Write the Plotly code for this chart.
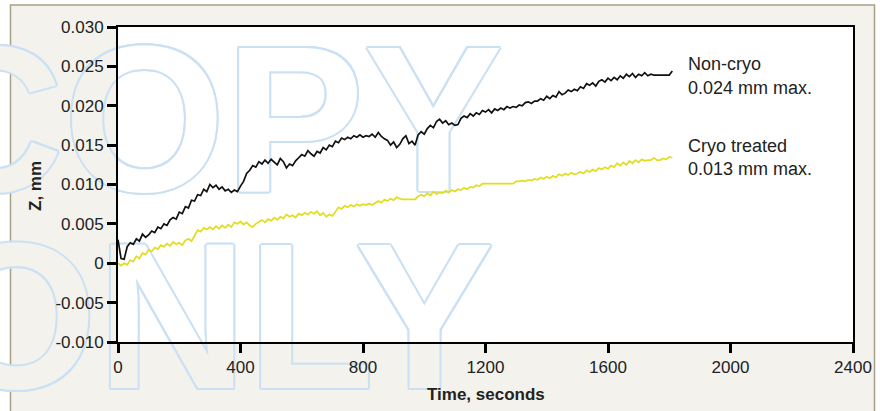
import plotly.graph_objects as go

# ---- data ----
time_s = [
    0, 10, 20, 30, 40, 50, 60, 70, 80, 90, 100, 110, 120, 130, 140, 150, 160, 170, 180, 190,
    200, 210, 220, 230, 240, 250, 260, 270, 280, 290, 300, 310, 320, 330, 340, 350, 360, 370, 380, 390,
    400, 410, 420, 430, 440, 450, 460, 470, 480, 490, 500, 510, 520, 530, 540, 550, 560, 570, 580, 590,
    600, 610, 620, 630, 640, 650, 660, 670, 680, 690, 700, 710, 720, 730, 740, 750, 760, 770, 780, 790,
    800, 810, 820, 830, 840, 850, 860, 870, 880, 890, 900, 910, 920, 930, 940, 950, 960, 970, 980, 990,
    1000, 1010, 1020, 1030, 1040, 1050, 1060, 1070, 1080, 1090, 1100, 1110, 1120, 1130, 1140, 1150, 1160, 1170, 1180, 1190,
    1200, 1210, 1220, 1230, 1240, 1250, 1260, 1270, 1280, 1290, 1300, 1310, 1320, 1330, 1340, 1350, 1360, 1370, 1380, 1390,
    1400, 1410, 1420, 1430, 1440, 1450, 1460, 1470, 1480, 1490, 1500, 1510, 1520, 1530, 1540, 1550, 1560, 1570, 1580, 1590,
    1600, 1610, 1620, 1630, 1640, 1650, 1660, 1670, 1680, 1690, 1700, 1710, 1720, 1730, 1740, 1750, 1760, 1770, 1780, 1790,
    1800, 1810,
]

non_cryo_z = [
    0.0030, 0.0006, 0.0005, 0.0021, 0.0026, 0.0024, 0.0031, 0.0028, 0.0037, 0.0033, 0.0036, 0.0041, 0.0039, 0.0046, 0.0044, 0.0050, 0.0048, 0.0055, 0.0058, 0.0056,
    0.0065, 0.0063, 0.0072, 0.0070, 0.0080, 0.0079, 0.0087, 0.0086, 0.0094, 0.0091, 0.0100, 0.0096, 0.0099, 0.0094, 0.0097, 0.0092, 0.0094, 0.0090, 0.0093, 0.0091,
    0.0098, 0.0104, 0.0114, 0.0118, 0.0124, 0.0122, 0.0129, 0.0126, 0.0131, 0.0127, 0.0132, 0.0128, 0.0125, 0.0133, 0.0129, 0.0121, 0.0126, 0.0124, 0.0130, 0.0134,
    0.0138, 0.0136, 0.0143, 0.0139, 0.0136, 0.0142, 0.0140, 0.0147, 0.0144, 0.0150, 0.0148, 0.0155, 0.0153, 0.0159, 0.0157, 0.0160, 0.0158, 0.0162, 0.0160, 0.0163,
    0.0160, 0.0162, 0.0161, 0.0164, 0.0160, 0.0166, 0.0161, 0.0158, 0.0156, 0.0150, 0.0154, 0.0147, 0.0151, 0.0158, 0.0162, 0.0152, 0.0155, 0.0150, 0.0163, 0.0167,
    0.0164, 0.0171, 0.0175, 0.0172, 0.0180, 0.0183, 0.0178, 0.0181, 0.0176, 0.0178, 0.0175, 0.0176, 0.0184, 0.0187, 0.0185, 0.0190, 0.0187, 0.0191, 0.0189, 0.0194,
    0.0192, 0.0195, 0.0191, 0.0196, 0.0194, 0.0197, 0.0195, 0.0199, 0.0197, 0.0199, 0.0198, 0.0201, 0.0200, 0.0204, 0.0205, 0.0203, 0.0206, 0.0206, 0.0209, 0.0207,
    0.0212, 0.0209, 0.0213, 0.0211, 0.0218, 0.0214, 0.0216, 0.0220, 0.0218, 0.0221, 0.0219, 0.0224, 0.0222, 0.0228, 0.0226, 0.0229, 0.0225, 0.0231, 0.0233, 0.0230,
    0.0235, 0.0232, 0.0236, 0.0233, 0.0238, 0.0235, 0.0240, 0.0237, 0.0241, 0.0236, 0.0240, 0.0238, 0.0242, 0.0238, 0.0240, 0.0239, 0.0239, 0.0239, 0.0239, 0.0239,
    0.0239, 0.0244,
]

cryo_z = [
    0.0000, -0.0003, 0.0000, -0.0002, 0.0004, 0.0002, 0.0009, 0.0006, 0.0013, 0.0011, 0.0017, 0.0015, 0.0020, 0.0018, 0.0023, 0.0021, 0.0025, 0.0022, 0.0027, 0.0024,
    0.0026, 0.0023, 0.0029, 0.0031, 0.0028, 0.0036, 0.0042, 0.0040, 0.0045, 0.0043, 0.0046, 0.0043, 0.0047, 0.0044, 0.0048, 0.0045, 0.0049, 0.0046, 0.0052, 0.0050,
    0.0053, 0.0049, 0.0052, 0.0048, 0.0046, 0.0050, 0.0053, 0.0055, 0.0052, 0.0056, 0.0054, 0.0058, 0.0055, 0.0059, 0.0057, 0.0062, 0.0059, 0.0061, 0.0058, 0.0063,
    0.0061, 0.0064, 0.0062, 0.0065, 0.0063, 0.0066, 0.0061, 0.0064, 0.0059, 0.0062, 0.0060, 0.0066, 0.0071, 0.0069, 0.0073, 0.0071, 0.0074, 0.0072, 0.0075, 0.0073,
    0.0075, 0.0074, 0.0076, 0.0074, 0.0077, 0.0079, 0.0077, 0.0081, 0.0079, 0.0082, 0.0080, 0.0084, 0.0082, 0.0081, 0.0081, 0.0081, 0.0081, 0.0081, 0.0085, 0.0087,
    0.0085, 0.0089, 0.0086, 0.0091, 0.0088, 0.0090, 0.0089, 0.0092, 0.0090, 0.0093, 0.0091, 0.0094, 0.0093, 0.0096, 0.0094, 0.0097, 0.0096, 0.0099, 0.0098, 0.0101,
    0.0101, 0.0101, 0.0101, 0.0101, 0.0101, 0.0101, 0.0101, 0.0101, 0.0101, 0.0101, 0.0104, 0.0104, 0.0105, 0.0104, 0.0106, 0.0105, 0.0107, 0.0106, 0.0109, 0.0107,
    0.0110, 0.0108, 0.0111, 0.0109, 0.0113, 0.0111, 0.0114, 0.0112, 0.0115, 0.0113, 0.0114, 0.0116, 0.0114, 0.0118, 0.0116, 0.0119, 0.0117, 0.0121, 0.0119, 0.0122,
    0.0120, 0.0124, 0.0122, 0.0127, 0.0124, 0.0128, 0.0125, 0.0130, 0.0127, 0.0131, 0.0128, 0.0132, 0.0130, 0.0131, 0.0131, 0.0134, 0.0131, 0.0131, 0.0133, 0.0132,
    0.0135, 0.0134,
]

x_ticks = [0, 400, 800, 1200, 1600, 2000, 2400]
y_ticks = [-0.010, -0.005, 0, 0.005, 0.010, 0.015, 0.020, 0.025, 0.030]
y_tick_labels = ["-0.010", "-0.005", "0", "0.005", "0.010", "0.015", "0.020", "0.025", "0.030"]

label_lines = ["Non-cryo", "0.024 mm max.", "Cryo treated", "0.013 mm max."]
watermark_words = ["COPY", "ONLY"]

# ---- styling ----
FONT = "Liberation Sans, Arial, Helvetica, sans-serif"
FRAME_BG = "#f3f2ed"
WM = "#cbe1f3"
wm_shadow = ", ".join(
    f"{dx}px {dy}px 0 {WM}" for dx, dy in
    [(2, 0), (-2, 0), (0, 2), (0, -2), (1.5, 1.5), (-1.5, -1.5), (1.5, -1.5), (-1.5, 1.5)]
)

fig = go.Figure()

# watermark (outlined text) drawn below the data lines
wm_pos_x = [294, 315]
wm_pos_y = [0.0158, -0.0093]
fig.add_trace(go.Scatter(
    x=wm_pos_x, y=wm_pos_y, text=watermark_words, mode="text",
    textposition="middle center", cliponaxis=False, hoverinfo="skip", showlegend=False,
    textfont=dict(family=FONT, size=208, weight="bold", color=FRAME_BG, shadow=wm_shadow),
))
fig.add_trace(go.Scatter(
    x=wm_pos_x, y=wm_pos_y, text=watermark_words, mode="text",
    textposition="middle center", cliponaxis=True, hoverinfo="skip", showlegend=False,
    textfont=dict(family=FONT, size=208, weight="bold", color="white", shadow=wm_shadow),
))

fig.add_trace(go.Scatter(
    x=time_s, y=cryo_z, mode="lines", name="Cryo treated",
    line=dict(color="#e2dd1c", width=1.7), showlegend=False,
))
fig.add_trace(go.Scatter(
    x=time_s, y=non_cryo_z, mode="lines", name="Non-cryo",
    line=dict(color="#111111", width=1.7), showlegend=False,
))

L, R, T, B = 118, 27, 27, 69
W, H = 880, 411
pw, ph = W - L - R, H - T - B


def px_x(p):
    return (p - L) / pw


def px_y(p):
    return (H - B - p) / ph


shapes = [
    dict(type="rect", xref="paper", yref="paper", layer="below",
         x0=px_x(10.5), x1=px_x(874.5), y0=px_y(430), y1=px_y(5),
         fillcolor=FRAME_BG, line=dict(color="#aa9f88", width=1.5)),
    dict(type="rect", xref="paper", yref="paper", layer="below",
         x0=0, x1=1, y0=0, y1=1, fillcolor="white", line=dict(width=0)),
]

annotations = []
label_y_px = [64, 87.5, 145.5, 169]
for txt, yp in zip(label_lines, label_y_px):
    annotations.append(dict(
        text=txt, xref="paper", yref="paper", x=px_x(686), y=px_y(yp),
        xanchor="left", yanchor="middle", showarrow=False,
        font=dict(family=FONT, size=18, color="#222222"),
    ))
annotations.append(dict(
    text="<b>Z, mm</b>", xref="paper", yref="paper", x=px_x(35), y=px_y(186),
    xanchor="center", yanchor="middle", showarrow=False, textangle=-90,
    font=dict(family=FONT, size=17, color="#222222"),
))
annotations.append(dict(
    text="<b>Time, seconds</b>", xref="paper", yref="paper", x=0.5, y=px_y(394),
    xanchor="center", yanchor="middle", showarrow=False,
    font=dict(family=FONT, size=17, color="#222222"),
))

axis_common = dict(
    showgrid=False, zeroline=False, showline=True, linecolor="black", linewidth=2,
    mirror=True, ticks="outside", ticklen=9, tickwidth=3, tickcolor="black",
    automargin=False,
    tickfont=dict(family=FONT, size=17, color="#222222"),
)

fig.update_layout(
    width=W, height=H, autosize=False,
    margin=dict(l=L, r=R, t=T, b=B),
    paper_bgcolor="white", plot_bgcolor="white",
    shapes=shapes, annotations=annotations,
    xaxis=dict(range=[0, 2400], tickvals=x_ticks, **axis_common),
    yaxis=dict(range=[-0.010, 0.030], tickvals=y_ticks, ticktext=y_tick_labels, **axis_common),
)

fig.write_html(
    "out.html",
    config={"displayModeBar": False},
    post_script="document.body.style.margin='0px';document.body.style.overflow='hidden';",
)
